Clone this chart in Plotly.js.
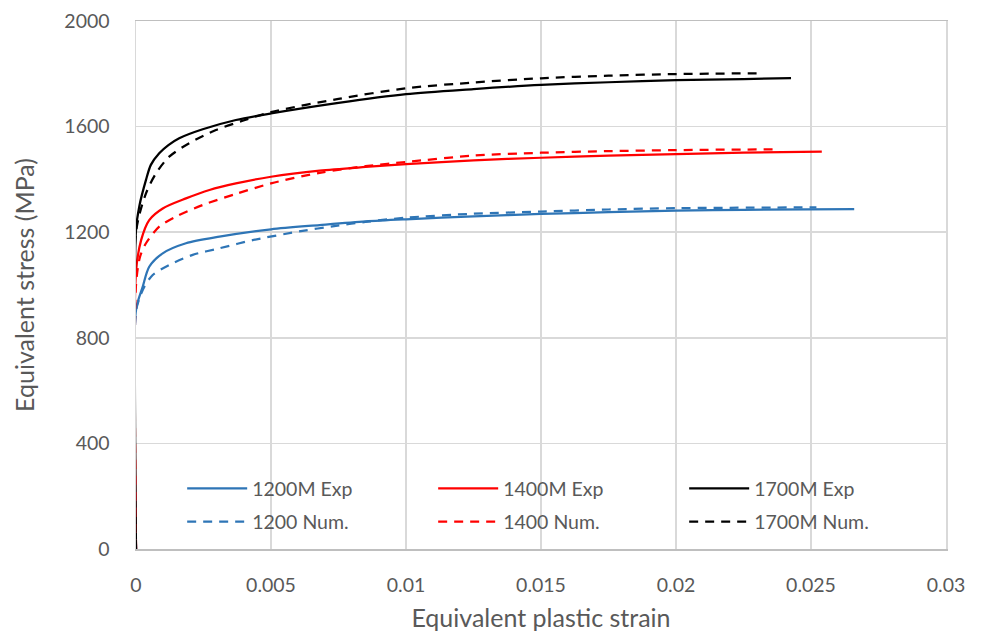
<!DOCTYPE html>
<html>
<head>
<meta charset="utf-8">
<script src="https://cdn.plot.ly/plotly-3.0.1.min.js"></script>
<style>
  html, body { margin: 0; padding: 0; background: #ffffff; }
  #chart { width: 984px; height: 638px; }
</style>
</head>
<body>
<div id="chart"></div>
<script>
// Equivalent stress vs. equivalent plastic strain, experimental and numerical curves
const strain1200Exp = [0, 0, 0.00025, 0.00049, 0.00099, 0.00185, 0.00309, 0.005, 0.0068, 0.0085, 0.01, 0.0125, 0.015, 0.0175, 0.02, 0.0225, 0.0266];
const stress1200Exp = [0, 905, 994, 1069, 1120, 1158, 1183, 1211, 1227, 1241, 1249, 1260, 1269, 1276, 1282, 1285, 1287];

const strain1200Num = [0, 0, 0.00015, 0.00031, 0.00062, 0.00123, 0.0021, 0.00309, 0.00432, 0.00617, 0.0074, 0.0085, 0.01, 0.0125, 0.015, 0.0175, 0.02, 0.0252];
const stress1200Num = [0, 900, 956, 994, 1038, 1076, 1114, 1139, 1170, 1205, 1224, 1239, 1255, 1270, 1278, 1286, 1291, 1294];

const strain1400Exp = [0, 0, 0.00019, 0.00049, 0.00099, 0.00185, 0.00272, 0.0037, 0.005, 0.0068, 0.0085, 0.01, 0.0125, 0.015, 0.0175, 0.02, 0.0225, 0.0254];
const stress1400Exp = [0, 1050, 1170, 1246, 1290, 1328, 1360, 1385, 1410, 1433, 1447, 1458, 1472, 1482, 1490, 1496, 1501, 1505];

const strain1400Num = [0, 0, 0.00015, 0.00037, 0.00086, 0.00148, 0.00247, 0.0037, 0.005, 0.0068, 0.0085, 0.01, 0.0125, 0.015, 0.0175, 0.02, 0.0238];
const stress1400Num = [0, 1000, 1107, 1158, 1221, 1259, 1303, 1345, 1385, 1425, 1450, 1466, 1490, 1501, 1507, 1511, 1514];

const strain1700Exp = [0, 0, 0.00012, 0.00037, 0.00055, 0.00086, 0.0012, 0.0016, 0.00247, 0.0037, 0.005, 0.0075, 0.01, 0.0125, 0.015, 0.0175, 0.02, 0.0225, 0.02426];
const stress1700Exp = [0, 1208, 1297, 1398, 1455, 1499, 1530, 1556, 1590, 1625, 1650, 1690, 1723, 1742, 1758, 1768, 1776, 1780, 1784];

const strain1700Num = [0, 0, 0.00037, 0.00074, 0.00123, 0.00197, 0.00296, 0.00395, 0.005, 0.0075, 0.01, 0.0125, 0.015, 0.0175, 0.02, 0.0232];
const stress1700Num = [0, 1200, 1347, 1423, 1486, 1537, 1587, 1622, 1655, 1705, 1745, 1767, 1783, 1793, 1799, 1802];

const seriesNames = ['1200M Exp', '1400M Exp', '1700M Exp', '1200 Num.', '1400 Num.', '1700M Num.'];

const BLUE = '#2e75b6', RED = '#ff0000', BLACK = '#000000';
const DASH = '9px,7px';
const FONT = 'Lato, "Open Sans", sans-serif';
const TEXT = '#595959';
const GRID = '#d9d9d9';

function curve(x, y, name, color, dashed, legend) {
  return {
    x: x, y: y, name: name, type: 'scatter', mode: 'lines',
    line: { color: color, width: 2.25, dash: dashed ? DASH : 'solid', shape: 'spline', smoothing: 0.8 },
    legend: legend, hoverinfo: 'skip'
  };
}

const traces = [
  curve(strain1200Exp, stress1200Exp, seriesNames[0], BLUE, false, 'legend'),
  curve(strain1400Exp, stress1400Exp, seriesNames[1], RED, false, 'legend'),
  curve(strain1700Exp, stress1700Exp, seriesNames[2], BLACK, false, 'legend'),
  curve(strain1200Num, stress1200Num, seriesNames[3], BLUE, true, 'legend2'),
  curve(strain1400Num, stress1400Num, seriesNames[4], RED, true, 'legend2'),
  curve(strain1700Num, stress1700Num, seriesNames[5], BLACK, true, 'legend2')
];

const legendBase = {
  orientation: 'h', xanchor: 'left', yanchor: 'middle', x: 0.057,
  bgcolor: 'rgba(255,255,255,0)', borderwidth: 0,
  font: { family: FONT, size: 19.5, color: TEXT },
  entrywidth: 176, entrywidthmode: 'pixels', itemwidth: 60, traceorder: 'normal'
};

const layout = {
  width: 984, height: 638,
  margin: { l: 136, r: 38, t: 21, b: 89 },
  paper_bgcolor: '#ffffff', plot_bgcolor: '#ffffff',
  font: { family: FONT, color: TEXT },
  showlegend: true,
  legend: Object.assign({}, legendBase, { y: 0.114 }),
  legend2: Object.assign({}, legendBase, { y: 0.051 }),
  xaxis: {
    range: [0, 0.03], dtick: 0.005, tick0: 0,
    showgrid: true, gridcolor: GRID, gridwidth: 1.5,
    zeroline: false, showline: true, linecolor: '#bfbfbf', linewidth: 1.5, mirror: true,
    ticks: '', ticklabelstandoff: 18,
    tickfont: { family: FONT, size: 19.5, color: TEXT },
    title: { text: 'Equivalent plastic strain', font: { family: FONT, size: 25, color: TEXT }, standoff: 14 }
  },
  yaxis: {
    range: [0, 2000], dtick: 400, tick0: 0,
    showgrid: true, gridcolor: GRID, gridwidth: 1.5,
    zeroline: false, showline: true, linecolor: GRID, linewidth: 1.5, mirror: true,
    ticks: '', ticklabelstandoff: 21,
    tickfont: { family: FONT, size: 19.5, color: TEXT },
    title: { text: 'Equivalent stress (MPa)', font: { family: FONT, size: 25, color: TEXT }, standoff: 22 }
  }
};

Plotly.newPlot('chart', traces, layout, { displayModeBar: false, staticPlot: true });
</script>
</body>
</html>
